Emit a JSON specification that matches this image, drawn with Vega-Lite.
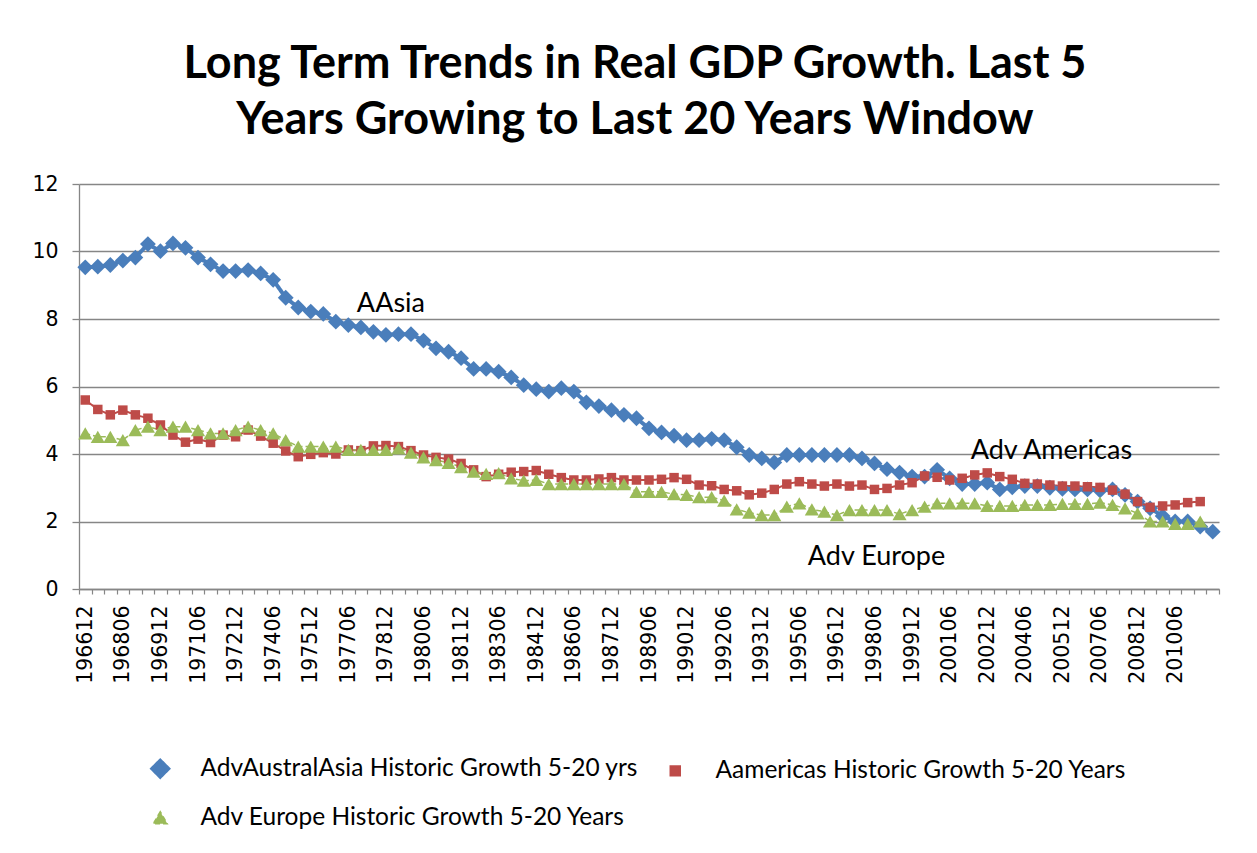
{
  "$schema": "https://vega.github.io/schema/vega-lite/v6.json",
  "width": 1140,
  "height": 405,
  "autosize": {"type": "none"},
  "padding": {"left": 79, "top": 184, "right": 38, "bottom": 264},
  "background": "white",
  "title": {
    "text": ["Long Term Trends in Real GDP Growth.  Last 5", "Years Growing to Last 20 Years Window"],
    "font": "Lato",
    "fontSize": 45,
    "fontWeight": "bold",
    "color": "black",
    "anchor": "middle",
    "dx": -14,
    "offset": 31,
    "lineHeight": 56
  },
  "config": {
    "view": {"stroke": null},
    "legend": {
      "orient": "none",
      "direction": "horizontal",
      "legendX": 69,
      "legendY": 572,
      "columns": 2,
      "padding": 0,
      "labelFont": "Lato",
      "labelFontSize": 24.5,
      "labelColor": "black",
      "labelLimit": 700,
      "symbolOffset": 0,
      "labelOffset": 28,
      "columnPadding": 25,
      "rowPadding": 19.5,
      "symbolOpacity": 1
    }
  },
  "layer": [
    {
      "data": {
        "values": [
          {"d":"196612","s":"AA","v":9.53},{"d":"196706","s":"AA","v":9.55},{"d":"196712","s":"AA","v":9.6},{"d":"196806","s":"AA","v":9.73},{"d":"196812","s":"AA","v":9.82},
          {"d":"196906","s":"AA","v":10.22},{"d":"196912","s":"AA","v":10.01},{"d":"197006","s":"AA","v":10.24},{"d":"197012","s":"AA","v":10.11},{"d":"197106","s":"AA","v":9.82},
          {"d":"197112","s":"AA","v":9.62},{"d":"197206","s":"AA","v":9.42},{"d":"197212","s":"AA","v":9.42},{"d":"197306","s":"AA","v":9.45},{"d":"197312","s":"AA","v":9.35},
          {"d":"197406","s":"AA","v":9.16},{"d":"197412","s":"AA","v":8.63},{"d":"197506","s":"AA","v":8.34},{"d":"197512","s":"AA","v":8.22},{"d":"197606","s":"AA","v":8.15},
          {"d":"197612","s":"AA","v":7.92},{"d":"197706","s":"AA","v":7.82},{"d":"197712","s":"AA","v":7.75},{"d":"197806","s":"AA","v":7.62},{"d":"197812","s":"AA","v":7.53},
          {"d":"197906","s":"AA","v":7.55},{"d":"197912","s":"AA","v":7.55},{"d":"198006","s":"AA","v":7.36},{"d":"198012","s":"AA","v":7.13},{"d":"198106","s":"AA","v":7.03},
          {"d":"198112","s":"AA","v":6.84},{"d":"198206","s":"AA","v":6.52},{"d":"198212","s":"AA","v":6.52},{"d":"198306","s":"AA","v":6.44},{"d":"198312","s":"AA","v":6.27},
          {"d":"198406","s":"AA","v":6.04},{"d":"198412","s":"AA","v":5.92},{"d":"198506","s":"AA","v":5.85},{"d":"198512","s":"AA","v":5.95},{"d":"198606","s":"AA","v":5.85},
          {"d":"198612","s":"AA","v":5.53},{"d":"198706","s":"AA","v":5.42},{"d":"198712","s":"AA","v":5.3},{"d":"198806","s":"AA","v":5.16},{"d":"198812","s":"AA","v":5.06},
          {"d":"198906","s":"AA","v":4.76},{"d":"198912","s":"AA","v":4.64},{"d":"199006","s":"AA","v":4.54},{"d":"199012","s":"AA","v":4.41},{"d":"199106","s":"AA","v":4.41},
          {"d":"199112","s":"AA","v":4.45},{"d":"199206","s":"AA","v":4.41},{"d":"199212","s":"AA","v":4.2},{"d":"199306","s":"AA","v":3.97},{"d":"199312","s":"AA","v":3.87},
          {"d":"199406","s":"AA","v":3.75},{"d":"199412","s":"AA","v":3.97},{"d":"199506","s":"AA","v":3.97},{"d":"199512","s":"AA","v":3.97},{"d":"199606","s":"AA","v":3.97},
          {"d":"199612","s":"AA","v":3.97},{"d":"199706","s":"AA","v":3.97},{"d":"199712","s":"AA","v":3.87},{"d":"199806","s":"AA","v":3.72},{"d":"199812","s":"AA","v":3.55},
          {"d":"199906","s":"AA","v":3.45},{"d":"199912","s":"AA","v":3.33},{"d":"200006","s":"AA","v":3.33},{"d":"200012","s":"AA","v":3.53},{"d":"200106","s":"AA","v":3.28},
          {"d":"200112","s":"AA","v":3.11},{"d":"200206","s":"AA","v":3.11},{"d":"200212","s":"AA","v":3.15},{"d":"200306","s":"AA","v":2.95},{"d":"200312","s":"AA","v":3.01},
          {"d":"200406","s":"AA","v":3.05},{"d":"200412","s":"AA","v":3.05},{"d":"200506","s":"AA","v":3.0},{"d":"200512","s":"AA","v":2.97},{"d":"200606","s":"AA","v":2.95},
          {"d":"200612","s":"AA","v":2.95},{"d":"200706","s":"AA","v":2.92},{"d":"200712","s":"AA","v":2.95},{"d":"200806","s":"AA","v":2.79},{"d":"200812","s":"AA","v":2.59},
          {"d":"200906","s":"AA","v":2.39},{"d":"200912","s":"AA","v":2.16},{"d":"201006","s":"AA","v":2.0},{"d":"201012","s":"AA","v":2.0},{"d":"201106","s":"AA","v":1.85},
          {"d":"201112","s":"AA","v":1.7},

          {"d":"196612","s":"AM","v":5.6},{"d":"196706","s":"AM","v":5.32},{"d":"196712","s":"AM","v":5.16},{"d":"196806","s":"AM","v":5.3},{"d":"196812","s":"AM","v":5.16},
          {"d":"196906","s":"AM","v":5.06},{"d":"196912","s":"AM","v":4.86},{"d":"197006","s":"AM","v":4.56},{"d":"197012","s":"AM","v":4.35},{"d":"197106","s":"AM","v":4.44},
          {"d":"197112","s":"AM","v":4.34},{"d":"197206","s":"AM","v":4.56},{"d":"197212","s":"AM","v":4.51},{"d":"197306","s":"AM","v":4.71},{"d":"197312","s":"AM","v":4.53},
          {"d":"197406","s":"AM","v":4.32},{"d":"197412","s":"AM","v":4.09},{"d":"197506","s":"AM","v":3.92},{"d":"197512","s":"AM","v":3.99},{"d":"197606","s":"AM","v":4.04},
          {"d":"197612","s":"AM","v":4.0},{"d":"197706","s":"AM","v":4.12},{"d":"197712","s":"AM","v":4.1},{"d":"197806","s":"AM","v":4.24},{"d":"197812","s":"AM","v":4.25},
          {"d":"197906","s":"AM","v":4.22},{"d":"197912","s":"AM","v":4.1},{"d":"198006","s":"AM","v":3.97},{"d":"198012","s":"AM","v":3.9},{"d":"198106","s":"AM","v":3.85},
          {"d":"198112","s":"AM","v":3.72},{"d":"198206","s":"AM","v":3.53},{"d":"198212","s":"AM","v":3.33},{"d":"198306","s":"AM","v":3.4},{"d":"198312","s":"AM","v":3.46},
          {"d":"198406","s":"AM","v":3.48},{"d":"198412","s":"AM","v":3.51},{"d":"198506","s":"AM","v":3.4},{"d":"198512","s":"AM","v":3.3},{"d":"198606","s":"AM","v":3.23},
          {"d":"198612","s":"AM","v":3.23},{"d":"198706","s":"AM","v":3.26},{"d":"198712","s":"AM","v":3.3},{"d":"198806","s":"AM","v":3.23},{"d":"198812","s":"AM","v":3.23},
          {"d":"198906","s":"AM","v":3.23},{"d":"198912","s":"AM","v":3.25},{"d":"199006","s":"AM","v":3.3},{"d":"199012","s":"AM","v":3.25},{"d":"199106","s":"AM","v":3.08},
          {"d":"199112","s":"AM","v":3.06},{"d":"199206","s":"AM","v":2.95},{"d":"199212","s":"AM","v":2.91},{"d":"199306","s":"AM","v":2.79},{"d":"199312","s":"AM","v":2.84},
          {"d":"199406","s":"AM","v":2.95},{"d":"199412","s":"AM","v":3.11},{"d":"199506","s":"AM","v":3.18},{"d":"199512","s":"AM","v":3.11},{"d":"199606","s":"AM","v":3.05},
          {"d":"199612","s":"AM","v":3.11},{"d":"199706","s":"AM","v":3.05},{"d":"199712","s":"AM","v":3.08},{"d":"199806","s":"AM","v":2.95},{"d":"199812","s":"AM","v":2.98},
          {"d":"199906","s":"AM","v":3.08},{"d":"199912","s":"AM","v":3.15},{"d":"200006","s":"AM","v":3.35},{"d":"200012","s":"AM","v":3.31},{"d":"200106","s":"AM","v":3.23},
          {"d":"200112","s":"AM","v":3.28},{"d":"200206","s":"AM","v":3.38},{"d":"200212","s":"AM","v":3.44},{"d":"200306","s":"AM","v":3.33},{"d":"200312","s":"AM","v":3.25},
          {"d":"200406","s":"AM","v":3.13},{"d":"200412","s":"AM","v":3.11},{"d":"200506","s":"AM","v":3.08},{"d":"200512","s":"AM","v":3.05},{"d":"200606","s":"AM","v":3.05},
          {"d":"200612","s":"AM","v":3.03},{"d":"200706","s":"AM","v":3.01},{"d":"200712","s":"AM","v":2.93},{"d":"200806","s":"AM","v":2.81},{"d":"200812","s":"AM","v":2.59},
          {"d":"200906","s":"AM","v":2.42},{"d":"200912","s":"AM","v":2.46},{"d":"201006","s":"AM","v":2.49},{"d":"201012","s":"AM","v":2.56},{"d":"201106","s":"AM","v":2.59},

          {"d":"196612","s":"EU","v":4.61},{"d":"196706","s":"EU","v":4.51},{"d":"196712","s":"EU","v":4.51},{"d":"196806","s":"EU","v":4.41},{"d":"196812","s":"EU","v":4.71},
          {"d":"196906","s":"EU","v":4.81},{"d":"196912","s":"EU","v":4.71},{"d":"197006","s":"EU","v":4.81},{"d":"197012","s":"EU","v":4.81},{"d":"197106","s":"EU","v":4.71},
          {"d":"197112","s":"EU","v":4.61},{"d":"197206","s":"EU","v":4.61},{"d":"197212","s":"EU","v":4.71},{"d":"197306","s":"EU","v":4.81},{"d":"197312","s":"EU","v":4.71},
          {"d":"197406","s":"EU","v":4.61},{"d":"197412","s":"EU","v":4.41},{"d":"197506","s":"EU","v":4.22},{"d":"197512","s":"EU","v":4.22},{"d":"197606","s":"EU","v":4.22},
          {"d":"197612","s":"EU","v":4.22},{"d":"197706","s":"EU","v":4.12},{"d":"197712","s":"EU","v":4.12},{"d":"197806","s":"EU","v":4.12},{"d":"197812","s":"EU","v":4.12},
          {"d":"197906","s":"EU","v":4.17},{"d":"197912","s":"EU","v":4.04},{"d":"198006","s":"EU","v":3.9},{"d":"198012","s":"EU","v":3.82},{"d":"198106","s":"EU","v":3.74},
          {"d":"198112","s":"EU","v":3.61},{"d":"198206","s":"EU","v":3.48},{"d":"198212","s":"EU","v":3.41},{"d":"198306","s":"EU","v":3.43},{"d":"198312","s":"EU","v":3.28},
          {"d":"198406","s":"EU","v":3.21},{"d":"198412","s":"EU","v":3.23},{"d":"198506","s":"EU","v":3.11},{"d":"198512","s":"EU","v":3.11},{"d":"198606","s":"EU","v":3.11},
          {"d":"198612","s":"EU","v":3.11},{"d":"198706","s":"EU","v":3.11},{"d":"198712","s":"EU","v":3.11},{"d":"198806","s":"EU","v":3.11},{"d":"198812","s":"EU","v":2.88},
          {"d":"198906","s":"EU","v":2.88},{"d":"198912","s":"EU","v":2.88},{"d":"199006","s":"EU","v":2.81},{"d":"199012","s":"EU","v":2.79},{"d":"199106","s":"EU","v":2.72},
          {"d":"199112","s":"EU","v":2.72},{"d":"199206","s":"EU","v":2.62},{"d":"199212","s":"EU","v":2.36},{"d":"199306","s":"EU","v":2.26},{"d":"199312","s":"EU","v":2.19},
          {"d":"199406","s":"EU","v":2.19},{"d":"199412","s":"EU","v":2.44},{"d":"199506","s":"EU","v":2.54},{"d":"199512","s":"EU","v":2.36},{"d":"199606","s":"EU","v":2.29},
          {"d":"199612","s":"EU","v":2.19},{"d":"199706","s":"EU","v":2.34},{"d":"199712","s":"EU","v":2.34},{"d":"199806","s":"EU","v":2.34},{"d":"199812","s":"EU","v":2.34},
          {"d":"199906","s":"EU","v":2.22},{"d":"199912","s":"EU","v":2.34},{"d":"200006","s":"EU","v":2.44},{"d":"200012","s":"EU","v":2.54},{"d":"200106","s":"EU","v":2.54},
          {"d":"200112","s":"EU","v":2.54},{"d":"200206","s":"EU","v":2.54},{"d":"200212","s":"EU","v":2.46},{"d":"200306","s":"EU","v":2.46},{"d":"200312","s":"EU","v":2.46},
          {"d":"200406","s":"EU","v":2.49},{"d":"200412","s":"EU","v":2.49},{"d":"200506","s":"EU","v":2.49},{"d":"200512","s":"EU","v":2.52},{"d":"200606","s":"EU","v":2.52},
          {"d":"200612","s":"EU","v":2.52},{"d":"200706","s":"EU","v":2.56},{"d":"200712","s":"EU","v":2.49},{"d":"200806","s":"EU","v":2.39},{"d":"200812","s":"EU","v":2.24},
          {"d":"200906","s":"EU","v":2.0},{"d":"200912","s":"EU","v":2.0},{"d":"201006","s":"EU","v":1.93},{"d":"201012","s":"EU","v":1.93},{"d":"201106","s":"EU","v":2.0}
        ]
      },
      "encoding": {
        "x": {
          "field": "d",
          "type": "ordinal",
          "bandPosition": 0.5,
          "scale": {"type": "band", "paddingInner": 0, "paddingOuter": 0},
          "axis": {
            "title": null,
            "labelAngle": -90,
            "labelFont": "DejaVu Sans",
            "labelFontSize": 20.5,
            "labelColor": "black",
            "labelPadding": 11,
            "labelOverlap": false,
            "labelExpr": "((floor(toNumber(datum.value)/100)*2 + (toNumber(datum.value)%100 == 12 ? 1 : 0) - 3933) % 3 == 0 && toNumber(datum.value) < 201100) ? datum.value : ''",
            "tickBand": "extent",
            "tickSize": 5,
            "tickColor": "#868686",
            "tickWidth": 1.2,
            "domainColor": "#868686",
            "domainWidth": 1.3,
            "grid": false
          }
        },
        "y": {
          "field": "v",
          "type": "quantitative",
          "scale": {"domain": [0, 12], "nice": false},
          "axis": {
            "title": null,
            "values": [0, 2, 4, 6, 8, 10, 12],
            "grid": true,
            "gridColor": "#868686",
            "gridWidth": 1.3,
            "domainColor": "#868686",
            "domainWidth": 1.3,
            "tickColor": "#868686",
            "tickWidth": 1.3,
            "tickSize": 7,
            "labelFont": "DejaVu Sans",
            "labelFontSize": 20.5,
            "labelColor": "black",
            "labelPadding": 14
          }
        },
        "color": {
          "field": "s",
          "type": "nominal",
          "scale": {"domain": ["AA", "AM", "EU"], "range": ["#4A7EBB", "#BE4B48", "#9BBB59"]},
          "legend": {
            "title": null,
            "labelExpr": "datum.value === 'AA' ? 'AdvAustralAsia Historic Growth 5-20 yrs' : datum.value === 'AM' ? 'Aamericas Historic Growth 5-20 Years' : 'Adv Europe Historic Growth 5-20 Years'"
          }
        }
      },
      "layer": [
        {
          "mark": {"type": "line"},
          "encoding": {
            "strokeWidth": {
              "field": "s",
              "type": "nominal",
              "scale": {"type": "ordinal", "domain": ["AA", "AM", "EU"], "range": [4, 2, 1.5]},
              "legend": {
                "title": null,
                "labelExpr": "datum.value === 'AA' ? 'AdvAustralAsia Historic Growth 5-20 yrs' : datum.value === 'AM' ? 'Aamericas Historic Growth 5-20 Years' : 'Adv Europe Historic Growth 5-20 Years'"
              }
            },
            "strokeDash": {
              "field": "s",
              "type": "nominal",
              "scale": {"domain": ["AA", "AM", "EU"], "range": [[1, 0], [1, 0], [5, 3]]},
              "legend": {
                "title": null,
                "labelExpr": "datum.value === 'AA' ? 'AdvAustralAsia Historic Growth 5-20 yrs' : datum.value === 'AM' ? 'Aamericas Historic Growth 5-20 Years' : 'Adv Europe Historic Growth 5-20 Years'"
              }
            }
          }
        },
        {
          "mark": {"type": "point", "filled": true, "opacity": 1},
          "encoding": {
            "shape": {
              "field": "s",
              "type": "nominal",
              "scale": {"domain": ["AA", "AM", "EU"], "range": ["diamond", "square", "triangle-up"]},
              "legend": {
                "title": null,
                "labelExpr": "datum.value === 'AA' ? 'AdvAustralAsia Historic Growth 5-20 yrs' : datum.value === 'AM' ? 'Aamericas Historic Growth 5-20 Years' : 'Adv Europe Historic Growth 5-20 Years'"
              }
            },
            "size": {
              "field": "s",
              "type": "nominal",
              "scale": {"type": "ordinal", "domain": ["AA", "AM", "EU"], "range": [250, 90, 200]},
              "legend": {
                "title": null,
                "labelExpr": "datum.value === 'AA' ? 'AdvAustralAsia Historic Growth 5-20 yrs' : datum.value === 'AM' ? 'Aamericas Historic Growth 5-20 Years' : 'Adv Europe Historic Growth 5-20 Years'"
              }
            }
          }
        }
      ]
    },
    {
      "data": {
        "values": [
          {"d": "197712", "v": 8.21, "t": "AAsia"},
          {"d": "200206", "v": 3.84, "t": "Adv Americas"},
          {"d": "199512", "v": 0.71, "t": "Adv Europe"}
        ]
      },
      "mark": {"type": "text", "font": "Lato", "fontSize": 27, "align": "left", "baseline": "alphabetic", "dx": -4, "color": "black"},
      "encoding": {
        "x": {"field": "d", "type": "ordinal", "bandPosition": 0.5, "scale": {"type": "band", "paddingInner": 0, "paddingOuter": 0}},
        "y": {"field": "v", "type": "quantitative"},
        "text": {"field": "t"}
      }
    }
  ]
}
